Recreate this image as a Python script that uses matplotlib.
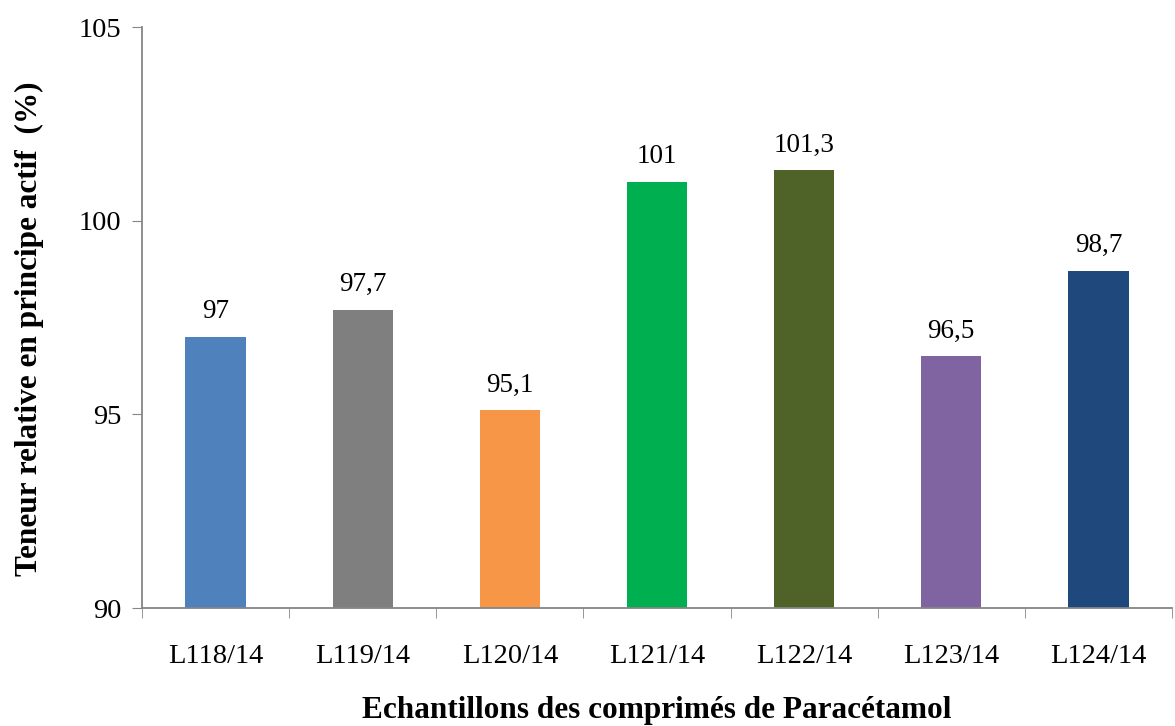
import matplotlib.pyplot as plt
import numpy as np

samples = ["L118/14", "L119/14", "L120/14", "L121/14", "L122/14", "L123/14", "L124/14"]
teneur = [97, 97.7, 95.1, 101, 101.3, 96.5, 98.7]
value_labels = ["97", "97,7", "95,1", "101", "101,3", "96,5", "98,7"]
bar_colors = ["#4F81BD", "#7F7F7F", "#F79646", "#00B050", "#4F6228", "#8064A2", "#1F497D"]

plt.rcParams["font.family"] = ["Liberation Serif", "DejaVu Serif"]

fig = plt.figure(figsize=(11.75, 7.26), dpi=100)
ax = fig.add_axes([0.1209, 0.1625, 0.8765, 0.8003])

x = np.arange(len(samples))
bars = ax.bar(x, np.array(teneur) - 90, bottom=90, width=0.41, color=bar_colors)

for xi, val, lab in zip(x, teneur, value_labels):
    ax.text(xi, val + 0.33, lab, ha="center", va="bottom", fontsize=19.5)

ax.set_xlim(-0.5, len(samples) - 0.5)
ax.set_ylim(90, 105)
ax.set_yticks([90, 95, 100, 105])
ax.set_xticks(x)
ax.set_xticklabels(samples, fontsize=20.5)
ax.tick_params(axis="y", labelsize=20.5, length=7, color="#868686", pad=8)
ax.tick_params(axis="x", length=0, pad=26)
# category separators on the x axis
ax.set_xticks(np.arange(len(samples) + 1) - 0.5, minor=True)
ax.tick_params(axis="x", which="minor", length=7, color="#868686")

for side in ["top", "right"]:
    ax.spines[side].set_visible(False)
for side in ["left", "bottom"]:
    ax.spines[side].set_color("#868686")
    ax.spines[side].set_linewidth(1.3)

ax.set_xlabel("Echantillons des comprimés de Paracétamol", fontsize=22.5, fontweight="bold", labelpad=19)
ax.set_ylabel("Teneur relative en principe actif  (%)", fontsize=22.5, fontweight="bold")
ax.yaxis.set_label_coords(-0.095, 0.48)

fig.savefig("out.png", dpi=100)
